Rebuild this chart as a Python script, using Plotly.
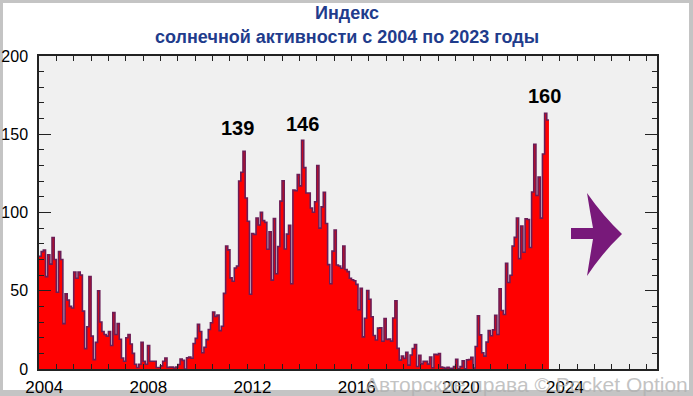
import plotly.graph_objects as go

# ---------------- data (monthly sunspot index, Jan 2004 .. Jul 2023) ----------------
start_year = 2004
ssn_2004 = [72, 75, 76, 59, 73, 67, 84, 70, 49, 75, 70, 29]
ssn_2005 = [48, 44, 40, 39, 62, 58, 62, 60, 37, 13, 27, 59]
ssn_2006 = [21, 6, 17, 50, 30, 24, 22, 21, 24, 15, 36, 22]
ssn_2007 = [29, 19, 7, 5, 20, 22, 16, 10, 3, 1, 3, 17]
ssn_2008 = [5, 3, 15, 5, 5, 5, 1, 1, 2, 5, 7, 1]
ssn_2009 = [1.3, 1.2, 0.6, 1.2, 2.9, 6.3, 5.5, 0.0, 7.1, 7.7, 6.9, 16.3]
ssn_2010 = [19.6, 28.5, 24.0, 10.4, 13.9, 18.8, 25.2, 29.6, 36.4, 33.6, 34.4, 24.5]
ssn_2011 = [27.3, 48.3, 78.6, 76.1, 58.2, 56.1, 64.5, 65.8, 120.1, 125.7, 139.1, 109.3]
ssn_2012 = [94.4, 47.8, 86.6, 85.9, 96.5, 92.0, 100.1, 94.8, 93.7, 76.5, 87.6, 56.8]
ssn_2013 = [96.1, 60.9, 78.3, 107.3, 120.2, 76.7, 86.2, 91.8, 54.5, 114.4, 113.9, 124.2]
ssn_2014 = [117.0, 146.1, 128.7, 112.5, 112.5, 102.9, 100.2, 106.9, 130.0, 90.0, 103.6, 112.9]
ssn_2015 = [93.0, 66.7, 54.5, 75.3, 88.8, 66.5, 65.8, 64.4, 78.6, 63.6, 62.2, 58.0]
ssn_2016 = [57.0, 56.4, 54.1, 37.9, 51.5, 20.5, 32.4, 50.2, 44.6, 33.4, 21.4, 18.5]
ssn_2017 = [26.1, 26.4, 17.7, 32.3, 18.9, 19.2, 17.8, 32.6, 43.6, 13.2, 5.7, 8.2]
ssn_2018 = [6.8, 10.7, 2.5, 8.9, 13.1, 15.6, 1.6, 8.7, 3.3, 4.9, 4.9, 3.1]
ssn_2019 = [7.7, 0.8, 9.4, 9.1, 9.9, 1.2, 0.9, 0.5, 1.1, 0.4, 0.5, 1.5]
ssn_2020 = [6.2, 0.2, 1.5, 5.2, 0.2, 5.8, 6.1, 7.5, 0.6, 14.4, 34.0, 21.8]
ssn_2021 = [10.4, 8.2, 17.2, 24.5, 21.2, 25.0, 34.3, 22.0, 51.3, 37.4, 34.8, 67.5]
ssn_2022 = [55.3, 59.9, 78.5, 84.1, 96.5, 70.5, 91.4, 74.6, 96.0, 95.5, 77.6, 113.1]
ssn_2023 = [143.6, 110.9, 122.6, 96.4, 137.4, 163.4, 159.1]

x_tick_years = [2004, 2008, 2012, 2016, 2020, 2024]
x_tick_text = ["2004", "2008", "2012", "2016", "2020", "2024"]
y_tick_vals = [0, 50, 100, 150, 200]

peak_years = [2011, 2014, 2023]
peak_labels = ["139", "146", "160"]

title_line1 = "Индекс"
title_line2 = "солнечной активности с 2004 по 2023 годы"
watermark = "Авторские права © Pocket Option"

# ---------------- build ----------------
values = (ssn_2004 + ssn_2005 + ssn_2006 + ssn_2007 + ssn_2008 + ssn_2009 + ssn_2010
          + ssn_2011 + ssn_2012 + ssn_2013 + ssn_2014 + ssn_2015 + ssn_2016 + ssn_2017
          + ssn_2018 + ssn_2019 + ssn_2020 + ssn_2021 + ssn_2022 + ssn_2023)
n = len(values)
xs = [start_year + i / 12 for i in range(n)] + [start_year + n / 12]
ys = values + [values[-1]]

W, H = 693, 396
ML, MR, MT, MB = 39, 36, 56, 27
PW, PH = W - ML - MR, H - MT - MB


def px(x):
    return (x - ML) / PW


def py(y):
    return (H - MB - y) / PH


fig = go.Figure()
fig.add_trace(go.Scatter(
    x=xs, y=ys, mode="lines", line=dict(shape="hv", color="#6b1d56", width=1.6),
    fill="tozeroy", fillcolor="#ff0000", hoverinfo="skip", showlegend=False))

x_end = start_year + PW / 26.04

FONT = "Liberation Sans, Arial"
annotations = []
for yr, lab, ysh, xsh in zip(peak_years, peak_labels, [23, 16, 17], [-7, 0, -1]):
    idxs = [i for i in range(n) if int(start_year + i // 12) == yr]
    k = max(idxs, key=lambda i: values[i])
    annotations.append(dict(x=start_year + k / 12 + 1 / 24, y=values[k], text="<b>" + lab + "</b>",
                            showarrow=False, yanchor="middle", yshift=ysh, xshift=xsh,
                            font=dict(family=FONT, size=20, color="black")))

annotations.append(dict(xref="paper", yref="paper", x=px(W / 2), y=py(13),
                        text="<b>" + title_line1 + "</b>", showarrow=False, xanchor="center",
                        yanchor="middle", font=dict(family=FONT, size=18, color="#1f3c8c")))
annotations.append(dict(xref="paper", yref="paper", x=px(W / 2), y=py(37),
                        text="<b>" + title_line2 + "</b>", showarrow=False, xanchor="center",
                        yanchor="middle", font=dict(family=FONT, size=18, color="#1f3c8c")))
annotations.append(dict(xref="paper", yref="paper", x=px(690), y=py(384), text=watermark,
                        showarrow=False, xanchor="right", yanchor="middle",
                        font=dict(family=FONT, size=21, color="rgba(175,175,175,0.75)")))

# arrow (decoration)
arrow_pts = [
    ("M", 571, 228), ("L", 593, 228),
    ("Q", 590, 212, 587, 193),
    ("Q", 603, 216, 622, 234),
    ("Q", 603, 252, 587, 276),
    ("Q", 590, 257, 593, 239),
    ("L", 571, 239),
]
path = ""
for p in arrow_pts:
    if p[0] == "Q":
        path += f"Q{px(p[1])},{py(p[2])} {px(p[3])},{py(p[4])} "
    else:
        path += f"{p[0]}{px(p[1])},{py(p[2])} "
path += "Z"

gray = "#c4c4c4"
shapes = [
    dict(type="path", xref="paper", yref="paper", path=path, fillcolor="#78197a",
         line=dict(width=0)),
    dict(type="rect", xref="paper", yref="paper", x0=px(0), x1=px(3), y0=py(H), y1=py(0),
         fillcolor=gray, line=dict(width=0), layer="below"),
    dict(type="rect", xref="paper", yref="paper", x0=px(W - 4), x1=px(W), y0=py(H), y1=py(0),
         fillcolor=gray, line=dict(width=0), layer="below"),
    dict(type="rect", xref="paper", yref="paper", x0=px(0), x1=px(W), y0=py(3), y1=py(0),
         fillcolor=gray, line=dict(width=0), layer="below"),
    dict(type="rect", xref="paper", yref="paper", x0=px(0), x1=px(W), y0=py(H), y1=py(390),
         fillcolor=gray, line=dict(width=0), layer="below"),
]

fig.update_layout(
    width=W, height=H,
    margin=dict(l=ML, r=MR, t=MT, b=MB, pad=0, autoexpand=False),
    paper_bgcolor="white", plot_bgcolor="#f0f0f0",
    showlegend=False,
    annotations=annotations, shapes=shapes,
    xaxis=dict(range=[start_year, x_end], tickvals=[y + 0.2 for y in x_tick_years],
               ticktext=x_tick_text, ticks="inside", ticklen=0, automargin=False,
               showgrid=False, zeroline=False, showline=True, linecolor="#222",
               linewidth=1.5, mirror="ticks", ticklabelstandoff=2,
               tickfont=dict(family=FONT, size=17, color="black"),
               minor=dict(ticks="inside", ticklen=5, tick0=start_year, dtick=2 / 3,
                          tickcolor="#222", showgrid=False)),
    yaxis=dict(range=[0, 200], tickvals=y_tick_vals, ticks="inside", ticklen=12,
               tickcolor="#222", showgrid=False, zeroline=False, showline=True,
               linecolor="#222", linewidth=1.5, mirror="ticks", ticklabelstandoff=6,
               automargin=False,
               tickfont=dict(family=FONT, size=16, color="black"),
               minor=dict(ticks="inside", ticklen=5, dtick=10, tickcolor="#222",
                          showgrid=False)),
)

fig.write_html("out.html", config={"displayModeBar": False},
               post_script="document.body.style.margin='0';"
               "document.body.style.overflow='hidden';")
